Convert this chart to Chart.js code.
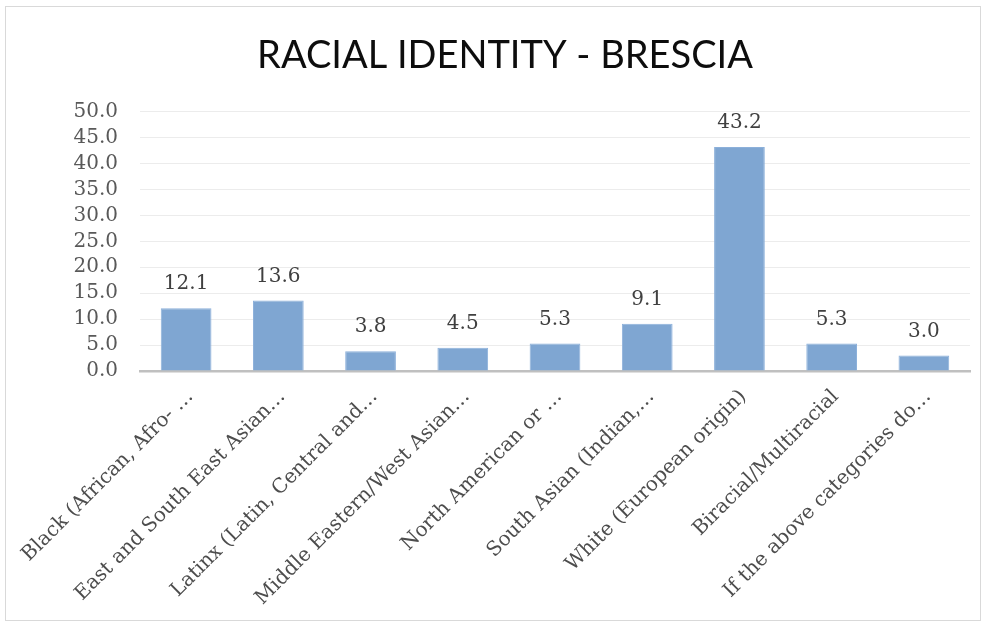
<!DOCTYPE html>
<html>
<head>
<meta charset="utf-8">
<script src="https://cdn.jsdelivr.net/npm/chart.js@4"></script>
<style>
    html, body { margin: 0; padding: 0; background: #ffffff; }
    #frame {
        position: absolute; left: 5px; top: 6px;
        width: 974px; height: 613px;
        border: 1px solid #d9d9d9;
    }
    #chart { position: absolute; left: 0; top: 0; }
</style>
</head>
<body>
<div id="frame"></div>
<canvas id="chart" width="986" height="627"></canvas>
<script>
// ── Data ─────────────────────────────────────────────────────
const categories = [
    'Black (African, Afro- …',
    'East and South East Asian…',
    'Latinx (Latin, Central and…',
    'Middle Eastern/West Asian…',
    'North American or …',
    'South Asian (Indian,…',
    'White (European origin)',
    'Biracial/Multiracial',
    'If the above categories do…',
];
const percentages = [12.1, 13.6, 3.8, 4.5, 5.3, 9.1, 43.2, 5.3, 3.0];
const yTicks = [0, 5, 10, 15, 20, 25, 30, 35, 40, 45, 50];

const serif = "'DejaVu Serif', 'Liberation Serif', serif";

// ── Value labels above bars ──────────────────────────────────
const valueLabels = {
    id: 'valueLabels',
    afterDatasetsDraw(chart) {
        const c = chart.ctx;
        const meta = chart.getDatasetMeta(0);
        c.save();
        c.font = '20px ' + serif;
        c.fillStyle = '#404040';
        c.textAlign = 'center';
        c.textBaseline = 'middle';
        meta.data.forEach((bar, i) => {
            c.fillText(percentages[i].toFixed(1), bar.x, bar.y - 24);
        });
        c.restore();
    },
};

// ── Chart ────────────────────────────────────────────────────
const ctx = document.getElementById('chart').getContext('2d');

new Chart(ctx, {
    type: 'bar',
    data: {
        labels: categories,
        datasets: [{
            data: percentages,
            backgroundColor: '#7fa6d2',
            borderColor: '#8cb0da',
            borderWidth: 1,
            categoryPercentage: 1.0,
            barPercentage: 0.55,
        }],
    },
    options: {
        responsive: false,
        animation: false,
        layout: { padding: { left: 40, right: 16, top: 0, bottom: 0 } },
        scales: {
            x: {
                grid: { display: false },
                border: { color: '#c0c0c0', width: 2.5 },
                ticks: {
                    autoSkip: false,
                    maxRotation: 45,
                    minRotation: 45,
                    labelOffset: 4,
                    padding: 6,
                    color: '#4d4d4d',
                    font: { family: serif, size: 20 },
                },
                afterFit: s => { s.height = 256; },
            },
            y: {
                min: 0,
                max: 50,
                afterBuildTicks: s => { s.ticks = yTicks.map(v => ({ value: v })); },
                grid: { color: '#ececec', drawTicks: false },
                border: { display: false },
                ticks: {
                    autoSkip: false,
                    padding: 22,
                    color: '#595959',
                    font: { family: serif, size: 20 },
                    callback: v => Number(v).toFixed(1),
                },
                afterFit: s => { s.width = 100; },
            },
        },
        plugins: {
            legend: { display: false },
            tooltip: { enabled: false },
            title: {
                display: true,
                text: 'RACIAL IDENTITY - BRESCIA',
                color: '#0d0d0d',
                font: { family: "Lato, 'Liberation Sans', sans-serif", size: 38, weight: '400' },
                padding: { top: 33, bottom: 33 },
            },
        },
    },
    plugins: [valueLabels],
});
</script>
</body>
</html>
